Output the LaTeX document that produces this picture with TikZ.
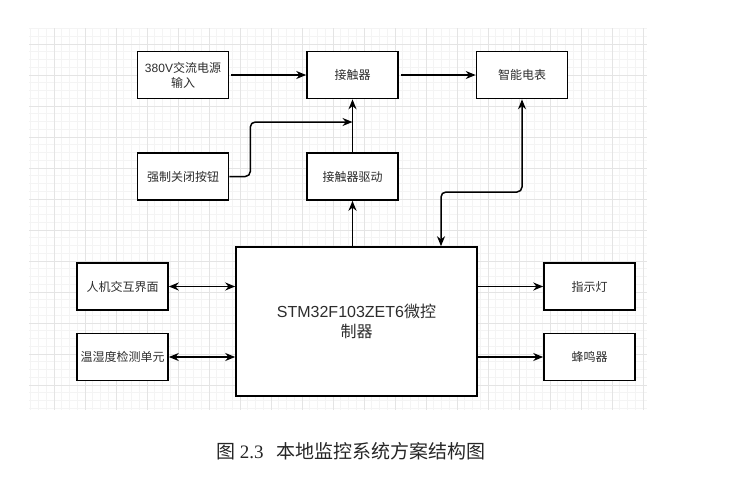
\documentclass[tikz,border=0pt]{standalone}
\usepackage{fontspec}
\setmainfont{Liberation Sans}
\newfontfamily\cjk{Noto Sans CJK SC}
\newfontfamily\latin{Liberation Sans}
\newfontfamily\capserif{Liberation Serif}
\usetikzlibrary{arrows.meta, calc}
\definecolor{gridminor}{RGB}{244,244,244}
\definecolor{gridmajor}{RGB}{228,228,228}
\definecolor{textgray}{RGB}{45,45,45}

\begin{document}
\begin{tikzpicture}[x=1pt, y=-1pt,
        block/.style={draw=black, line width=1.6pt, fill=white, minimum width=91pt, minimum height=47pt, align=center, inner sep=2pt, text=textgray, font=\cjk\fontsize{12}{15}\selectfont},
        arrow/.style={line width=1.5pt, -{Stealth[length=10pt, width=8pt]}},
        biarrow/.style={line width=1.5pt, {Stealth[length=10pt, width=8pt]}-{Stealth[length=10pt, width=8pt]}}
    ]
        \useasboundingbox (0,0) rectangle (742,479);

        % background grid
        \begin{scope}
            \clip (29,28) rectangle (647,410);
            \foreach \k in {0,...,82} {
                \pgfmathsetmacro{\gx}{23+7.75*\k}
                \draw[gridminor, line width=0.8pt] (\gx,28) -- (\gx,410);
            }
            \foreach \k in {0,...,52} {
                \pgfmathsetmacro{\gy}{13+7.75*\k}
                \draw[gridminor, line width=0.8pt] (29,\gy) -- (647,\gy);
            }
            \foreach \k in {0,...,20} {
                \pgfmathsetmacro{\gx}{23+31*\k}
                \pgfmathsetmacro{\gy}{13+31*\k}
                \draw[gridmajor, line width=0.8pt] (\gx,28) -- (\gx,410);
                \draw[gridmajor, line width=0.8pt] (29,\gy) -- (647,\gy);
            }
        \end{scope}

        \node[block] (power) at (183,75) {{\latin 380V}交流电源\\输入};
        \node[block] (contactor) at (352.5,75) {接触器};
        \node[block] (meter) at (522,75) {智能电表};
        \node[block] (button) at (183,176.5) {强制关闭按钮};
        \node[block] (driver) at (352.5,176.5) {接触器驱动};
        \node[block, minimum width=241pt, minimum height=149pt, font=\cjk\fontsize{16}{20}\selectfont] (mcu) at (356.5,321.5) {{\latin STM32F103ZET6}微控\\制器};
        \node[block] (hmi) at (122.5,286.5) {人机交互界面};
        \node[block] (sensor) at (122.5,357) {温湿度检测单元};
        \node[block] (led) at (589.5,286.5) {指示灯};
        \node[block] (buzzer) at (589.5,357) {蜂鸣器};

        \node[font=\cjk\fontsize{19}{23}\selectfont, text=black!85] (caption) at (351,451) {图 {\capserif 2.3}\ \ \ 本地监控系统方案结构图};

        \coordinate (join) at (352.5,122);
        \coordinate (bend) at (441,192);

        \draw[arrow, shorten <=2pt] (power) -- (contactor);
        \draw[arrow, shorten <=2pt] (contactor) -- (meter);
        \draw[arrow] (driver) -- (contactor);
        \draw[arrow, rounded corners=5pt] (button.east) -- ++(21,0) |- (join);
        \draw[arrow] (mcu.north -| driver.south) -- (driver.south);
        \draw[biarrow, rounded corners=5pt] (meter.south) |- (bend) -- (bend |- mcu.north);
        \draw[biarrow] (hmi.east) -- (hmi.east -| mcu.west);
        \draw[biarrow] (sensor.east) -- (sensor.east -| mcu.west);
        \draw[arrow] (mcu.east |- led.west) -- (led.west);
        \draw[arrow] (mcu.east |- buzzer.west) -- (buzzer.west);
    \end{tikzpicture}
\end{document}
